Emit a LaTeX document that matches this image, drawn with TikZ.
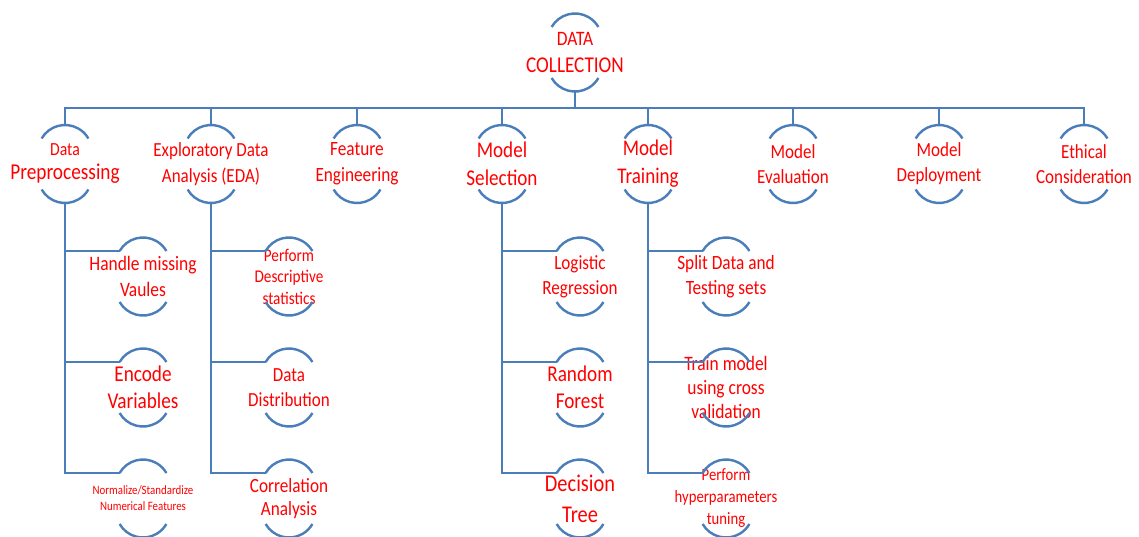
\documentclass[tikz,border=0pt]{standalone}
\usepackage{fontspec}
\setmainfont{Carlito}[FakeStretch=0.85]
\definecolor{lb}{RGB}{74,126,187}
\newcommand\fz[2]{\fontsize{#1}{#2}\selectfont}
\tikzset{
  lbl/.style={text=red, align=center, inner sep=0pt},
  arcs/.style={draw=lb, line width=2.4pt},
  conn/.style={draw=lb, line width=2.6pt},
}
% name, x, y (pixels, downward), font, text
\newcommand\anode[5]{%
  \node[lbl,font=#4] (#1) at (#2,-#3) {#5};
  \coordinate (#1-t) at (#2,-#3+39);
  \coordinate (#1-b) at (#2,-#3-39);
  \coordinate (#1-l) at (#2-23.38,-#3+25.5);
  \draw[arcs] (#1-l) arc[start angle=150,end angle=30,radius=27pt];
  \draw[arcs] (#2-23.38,-#3-25.5) arc[start angle=210,end angle=330,radius=27pt];
}
\begin{document}
\begin{tikzpicture}[x=1pt,y=1pt]
\fill[white] (0,0) rectangle (1139,-536);
\useasboundingbox (0,0) rectangle (1139,-536);

\anode{root}{575}{52.5}{\fz{22.6}{27}}{\fz{20.5}{27}DATA\\COLLECTION}
\anode{dp}{65}{164}{\fz{22.7}{24}}{\fz{18.5}{24}Data\\Preprocessing}
\anode{eda}{211}{164}{\fz{20}{26}}{Exploratory Data\\Analysis (EDA)}
\anode{fe}{357}{164}{\fz{20.3}{26}}{Feature\\Engineering}
\anode{ms}{502}{164}{\fz{22.5}{28}}{Model\\Selection}
\anode{mt}{648}{164}{\fz{22.4}{28}}{Model\\Training}
\anode{mev}{793}{164}{\fz{20}{25}}{Model\\Evaluation}
\anode{mdp}{939}{164}{\fz{20}{25}}{Model\\Deployment}
\anode{eth}{1084}{164}{\fz{20}{25}}{Ethical\\Consideration}

\anode{hm}{143}{276.5}{\fz{20.5}{26}}{Handle missing\\Vaules}
\anode{enc}{143}{387.5}{\fz{22.6}{27}}{Encode\\Variables}
\anode{norm}{143}{498.5}{\fz{12.8}{16}}{Normalize/Standardize\\Numerical Features}
\anode{pds}{289}{276.5}{\fz{17.9}{21.5}}{Perform\\Descriptive\\statistics}
\anode{dd}{289}{387.5}{\fz{20}{25}}{Data\\Distribution}
\anode{ca}{289}{498.5}{\fz{20.2}{23}}{Correlation\\Analysis}
\anode{lr}{580}{276.5}{\fz{20.1}{25}}{Logistic\\Regression}
\anode{rf}{580}{387.5}{\fz{22.6}{27}}{Random\\Forest}
\anode{dt}{580}{498.5}{\fz{24}{31}}{Decision\\Tree}
\anode{sd}{726}{276.5}{\fz{20.3}{25}}{Split Data and\\Testing sets}
\anode{tm}{726}{387.5}{\fz{20.5}{24}}{Train model\\using cross\\validation}
\anode{ph}{726}{498.5}{\fz{17.3}{22}}{Perform\\hyperparameters\\tuning}

\coordinate (bus) at (575,-108);
\draw[conn] (root-b) -- (bus);
\draw[conn] (dp-t) |- (bus) -| (eth-t);
\foreach \n in {eda,fe,ms,mt,mev,mdp}{\draw[conn] (\n-t) -- (\n-t |- bus);}

\foreach \p/\c in {dp/hm,dp/enc,dp/norm,eda/pds,eda/dd,eda/ca,ms/lr,ms/rf,ms/dt,mt/sd,mt/tm,mt/ph}{
  \draw[conn] (\p-b) |- (\c-l);
}
\end{tikzpicture}
\end{document}
